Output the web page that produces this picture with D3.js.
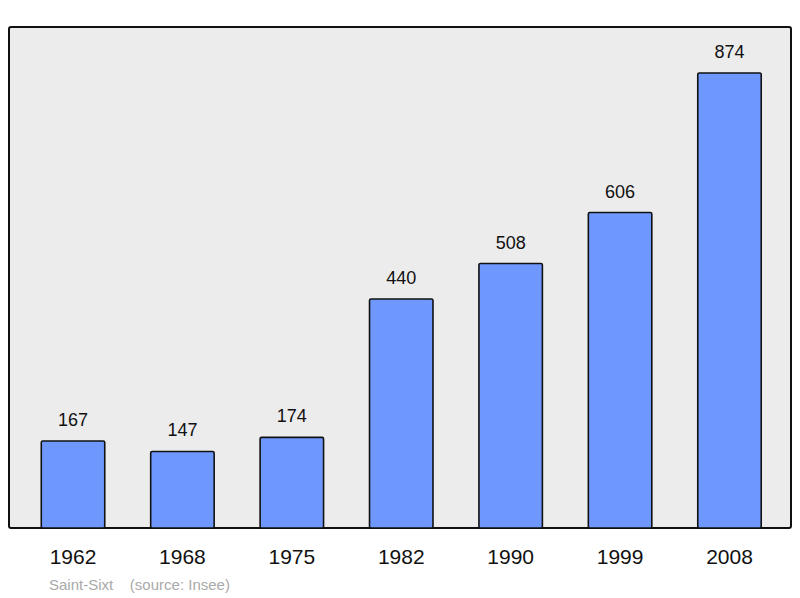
<!DOCTYPE html>
<html>
<head>
<meta charset="utf-8">
<script src="https://cdn.jsdelivr.net/npm/d3@7"></script>
<style>body{margin:0;background:#fff}</style>
</head>
<body>
<svg width="800" height="598"></svg>
<script>
var years = ["1962", "1968", "1975", "1982", "1990", "1999", "2008"]
var population = [167, 147, 174, 440, 508, 606, 874]
var commune = "Saint-Sixt"

var svg = d3.select("svg")

// frame
svg.append("rect")
  .attr("x", 9).attr("y", 27).attr("width", 782).attr("height", 501)
  .attr("rx", 2)
  .attr("fill", "#ececec").attr("stroke", "#111").attr("stroke-width", 2)

var x = d3.scaleBand().domain(years).range([18.3, 784.2])
  .paddingInner(0.42).paddingOuter(0.21)
var y = d3.scaleLinear().domain([0, 874]).range([528, 73])

// bars
svg.selectAll(".bar").data(years).enter().append("rect")
  .attr("x", d => x(d))
  .attr("y", (d, i) => y(population[i]))
  .attr("width", x.bandwidth())
  .attr("height", (d, i) => 528 - y(population[i]))
  .attr("rx", 1.5)
  .attr("fill", "#6f98ff").attr("stroke", "#111").attr("stroke-width", 1.6)

// value labels
svg.selectAll(".val").data(years).enter().append("text")
  .attr("x", d => x(d) + x.bandwidth() / 2)
  .attr("y", (d, i) => y(population[i]) - 15)
  .attr("text-anchor", "middle")
  .attr("font-family", "Liberation Sans, Arial, sans-serif")
  .attr("font-size", 18).attr("fill", "#111")
  .text((d, i) => population[i])

// year labels
svg.selectAll(".yr").data(years).enter().append("text")
  .attr("x", d => x(d) + x.bandwidth() / 2)
  .attr("y", 564)
  .attr("text-anchor", "middle")
  .attr("font-family", "Liberation Sans, Arial, sans-serif")
  .attr("font-size", 21).attr("fill", "#111")
  .text(d => d)

// source
svg.append("text")
  .attr("x", 49).attr("y", 590)
  .attr("font-family", "Liberation Sans, Arial, sans-serif")
  .attr("font-size", 15).attr("fill", "#aaa")
  .attr("xml:space", "preserve")
  .text(commune + "    (source: Insee)")
</script>
</body>
</html>
